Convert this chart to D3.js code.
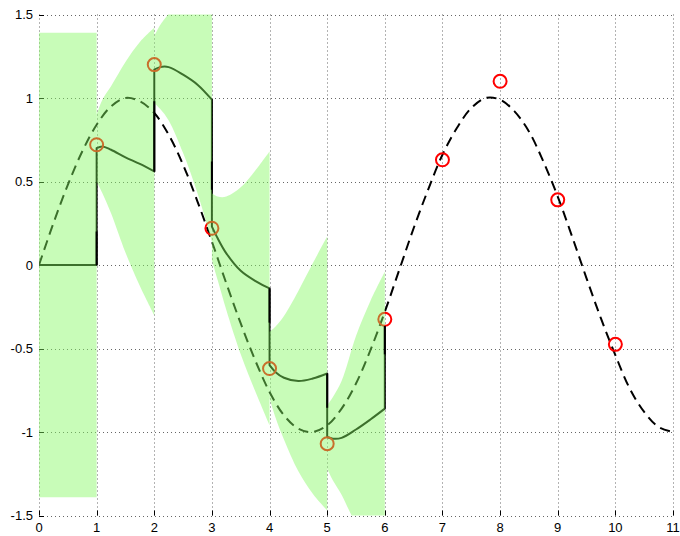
<!DOCTYPE html>
<html><head><meta charset="utf-8">
<script src="https://cdn.jsdelivr.net/npm/d3@7"></script>
<style>body{margin:0;background:#fff} svg{display:block} text{font-family:"Liberation Sans",Arial,Helvetica,sans-serif;font-size:13px;fill:#000}</style>
</head><body><svg id="c" width="680" height="536"></svg>
<script>
// ---- data ----
const xTicks = [0,1,2,3,4,5,6,7,8,9,10,11];
const yTicks = [-1.5,-1,-0.5,0,0.5,1,1.5];
const yTickLabels = ["-1.5","-1","-0.5","0","0.5","1","1.5"];

// true signal (dashed)
const trueX = [0,0.25,0.5,0.75,1,1.25,1.5,1.75,2,2.25,2.5,2.75,3,3.25,3.5,3.75,4,4.25,4.5,4.75,5,5.25,5.5,5.75,6,6.25,6.5,6.75,7,7.25,7.5,7.75,8,8.25,8.5,8.75,9,9.25,9.5,9.75,10,10.25,10.5,10.75,11];
const trueY = [0,0.25,0.48,0.68,0.84,0.95,1.0,0.98,0.91,0.78,0.6,0.38,0.14,-0.11,-0.35,-0.57,-0.76,-0.9,-0.98,-1.0,-0.96,-0.86,-0.71,-0.51,-0.28,-0.03,0.22,0.45,0.66,0.82,0.94,1.0,0.99,0.92,0.8,0.62,0.41,0.17,-0.08,-0.32,-0.54,-0.74,-0.88,-0.97,-1.0];

// measurements (red circles)
const measX = [1,2,3,4,5,6,7,8,9,10];
const measY = [0.72,1.2,0.22,-0.62,-1.07,-0.325,0.63,1.1,0.39,-0.475];

// estimate segments (solid line) and uncertainty band half widths
const segStart = [0,1,2,3,4,5];
const segOffset = [0,0.1,0.25,0.5,0.75,1];
const segMean = [
  [0,0,0,0,0,0],
  [0.70,0.71,0.69,0.645,0.605,0.56],
  [1.17,1.185,1.185,1.14,1.08,0.99],
  [0.23,0.16,0.07,-0.035,-0.095,-0.14],
  [-0.60,-0.64,-0.675,-0.695,-0.68,-0.65],
  [-1.03,-1.04,-1.035,-0.985,-0.925,-0.86]
];
const segHalf = [
  [1.39,1.39,1.39,1.39,1.39,1.39],
  [0.2,0.28,0.38,0.57,0.73,0.86],
  [0.2,0.25,0.32,0.47,0.65,0.85],
  [0.2,0.25,0.34,0.5,0.66,0.82],
  [0.2,0.27,0.37,0.54,0.69,0.82],
  [0.19,0.25,0.34,0.56,0.71,0.82]
];
const finalX = 6, finalY = -0.36;

// portions of the update jumps left uncovered by the band
const stepX  = [1,2,3,4,5,6];
const stepLo = [0,0.56,0.45,-0.345,-0.855,-0.535];
const stepHi = [0.2,0.98,0.62,-0.14,-0.65,-0.365];

// ---- chart ----
const svg = d3.select("#c");
const x = d3.scaleLinear().domain([0,11]).range([39,673]);
const y = d3.scaleLinear().domain([-1.5,1.5]).range([515.5,14.5]);

svg.append("defs").append("clipPath").attr("id","plot")
  .append("rect").attr("x",x(0)).attr("y",y(1.5)).attr("width",x(11)-x(0)).attr("height",y(-1.5)-y(1.5));

// grid
const grid = svg.append("g").attr("stroke","#666").attr("stroke-width",1).attr("stroke-dasharray","1,3");
grid.selectAll(".gx").data(xTicks).join("line")
  .attr("x1",d=>Math.round(x(d))+0.5).attr("x2",d=>Math.round(x(d))+0.5)
  .attr("y1",y(1.5)).attr("y2",y(-1.5));
grid.selectAll(".gy").data(yTicks).join("line")
  .attr("y1",d=>Math.round(y(d))+0.5).attr("y2",d=>Math.round(y(d))+0.5)
  .attr("x1",x(0)).attr("x2",x(11));

// ticks
const tk = svg.append("g").attr("stroke","#000").attr("stroke-width",1);
tk.selectAll(".tx").data(xTicks).join("line")
  .attr("x1",d=>Math.round(x(d))+0.5).attr("x2",d=>Math.round(x(d))+0.5)
  .attr("y1",y(-1.5)).attr("y2",y(-1.5)-5);
tk.selectAll(".ty").data(yTicks).join("line")
  .attr("y1",d=>Math.round(y(d))+0.5).attr("y2",d=>Math.round(y(d))+0.5)
  .attr("x1",x(0)).attr("x2",x(0)+5);

// tick labels
svg.append("g").selectAll("text").data(xTicks).join("text")
  .attr("x",d=>x(d)).attr("y",532).attr("text-anchor","middle").text(d=>d);
svg.append("g").selectAll("text").data(yTicks).join("text")
  .attr("x",33).attr("y",d=>y(d)).attr("dy","0.35em").attr("text-anchor","end")
  .text((d,i)=>yTickLabels[i]);

const plot = svg.append("g").attr("clip-path","url(#plot)");

// true signal dashed
const trueLine = d3.line().x((d,i)=>x(trueX[i])).y(d=>y(d)).curve(d3.curveCatmullRom);
plot.append("path").attr("d",trueLine(trueY)).attr("fill","none")
  .attr("stroke","#000").attr("stroke-width",2).attr("stroke-dasharray","10,6");

// estimate line
const segLine = d3.line().x(d=>x(d[0])).y(d=>y(d[1])).curve(d3.curveCatmullRom);
let dStr = "";
segStart.forEach((s,k)=>{
  const pts = segOffset.map((o,j)=>[s+o, segMean[k][j]]);
  let p = segLine(pts);
  if (k>0) p = "L" + p.slice(1);
  dStr += p;
});
dStr += "L" + x(finalX) + "," + y(finalY);
plot.append("path").attr("d",dStr).attr("fill","none")
  .attr("stroke","#000").attr("stroke-width",2).attr("stroke-linejoin","round");

// measurements
plot.selectAll("circle").data(measX).join("circle")
  .attr("cx",d=>x(d)).attr("cy",(d,i)=>y(measY[i])).attr("r",6.5)
  .attr("fill","none").attr("stroke","#ff0000").attr("stroke-width",2);

// uncertainty band (semi-transparent)
const band = d3.area().x(d=>x(d[0])).y0(d=>y(d[1]-d[2])).y1(d=>y(d[1]+d[2])).curve(d3.curveCatmullRom);
segStart.forEach((s,k)=>{
  const pts = segOffset.map((o,j)=>[s+o, segMean[k][j], segHalf[k][j]]);
  plot.append("path").attr("d",band(pts)).attr("fill","rgb(133,249,98)").attr("fill-opacity",0.45);
});

// uncovered parts of the jumps
plot.selectAll(".st").data(stepX).join("line")
  .attr("x1",d=>x(d)).attr("x2",d=>x(d))
  .attr("y1",(d,i)=>y(stepLo[i])).attr("y2",(d,i)=>y(stepHi[i]))
  .attr("stroke","#000").attr("stroke-width",2);
</script></body></html>
